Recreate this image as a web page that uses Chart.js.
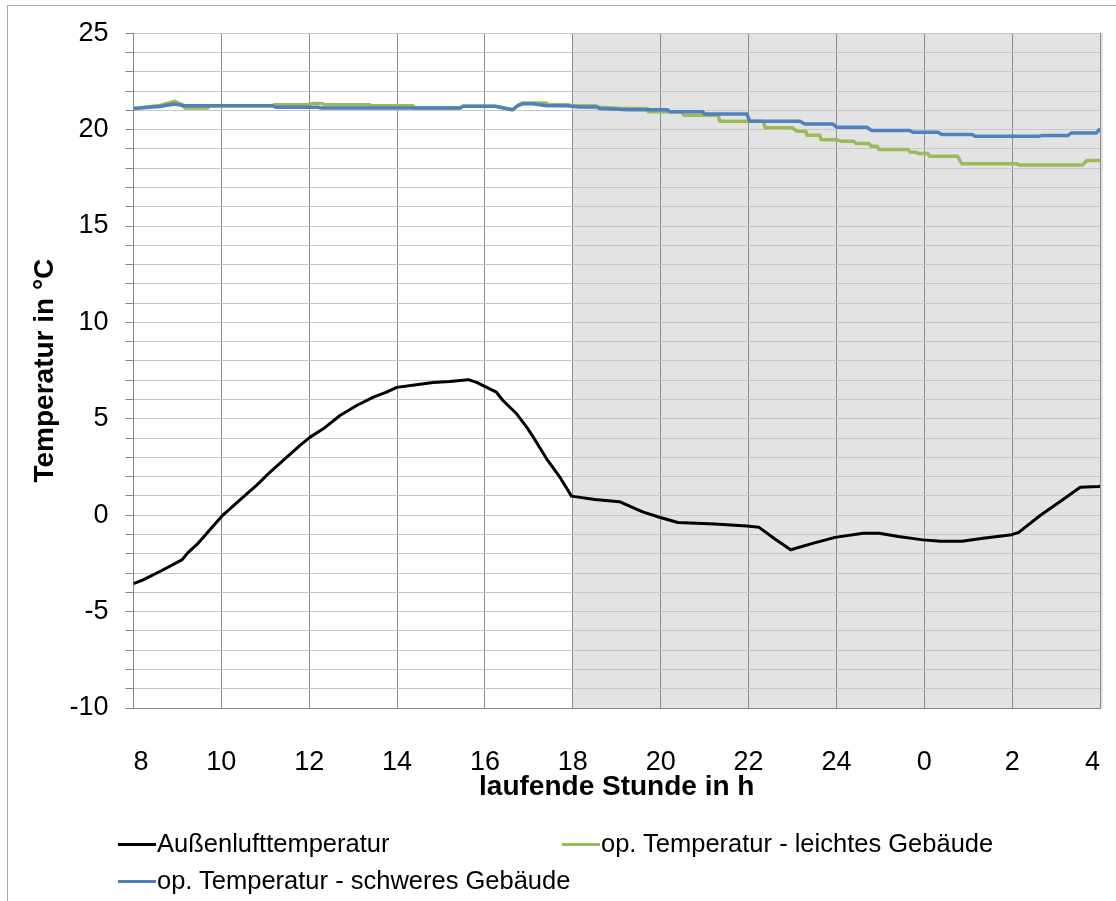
<!DOCTYPE html>
<html><head><meta charset="utf-8">
<script src="https://cdn.jsdelivr.net/npm/chart.js@4.4.1/dist/chart.umd.min.js"></script>
<style>
html,body{margin:0;padding:0;background:#fff;}
#wrap{position:relative;width:1116px;height:901px;overflow:hidden;font-family:"Liberation Sans",Arial,sans-serif;}
#frame{position:absolute;left:7px;top:5px;width:1200px;height:1000px;border-left:1px solid #a6a6a6;border-top:1px solid #a6a6a6;}
canvas{position:absolute;left:0;top:0;}
.lg{position:absolute;font-size:25.5px;color:#000;line-height:30px;white-space:nowrap;}
.lg .sw{display:inline-block;width:38px;height:3px;vertical-align:middle;margin-right:1px;position:relative;top:-1px;}
</style></head>
<body><div id="wrap"><div id="frame"></div><canvas id="c" width="1116" height="901"></canvas><div id="legend"></div></div>
<script>
// x tick labels (one every 2 hours on the running-hour axis)
const tickLabels = ['8','10','12','14','16','18','20','22','24','0','2','4'];
const nightStartLabel = '18';

const seriesNames = ['Außenlufttemperatur','op. Temperatur - leichtes Gebäude','op. Temperatur - schweres Gebäude'];
const seriesColors = ['#000000','#9bbb59','#4f81bd'];

// hours since the first tick (8 h)
const outsideHours = [0,0.22,0.60,1.10,1.24,1.47,1.67,2.01,2.50,2.80,3.11,3.49,3.79,4.02,4.32,4.70,5.08,5.46,5.76,5.99,6.44,6.82,7.20,7.62,7.81,8.26,8.41,8.72,8.95,9.10,9.40,9.70,9.97,10.50,11.06,11.59,11.99,12.39,13.23,13.96,14.24,14.60,14.96,15.48,15.97,16.61,16.97,17.41,17.97,18.38,18.86,19.34,19.99,20.15,20.63,21.11,21.55,21.96,22];
const outsideTemp = [-3.55,-3.35,-2.92,-2.32,-1.94,-1.46,-0.94,-0.05,0.95,1.55,2.24,3.01,3.62,4.05,4.48,5.17,5.69,6.12,6.38,6.63,6.77,6.88,6.94,7.03,6.89,6.38,5.95,5.26,4.57,4.05,2.94,1.99,0.99,0.82,0.70,0.17,-0.12,-0.38,-0.46,-0.56,-0.63,-1.23,-1.79,-1.45,-1.15,-0.94,-0.94,-1.11,-1.28,-1.35,-1.35,-1.2,-1.01,-0.89,-0.03,0.74,1.45,1.49,1.5];

const lightHours = [0,0.60,0.94,1.10,1.17,1.69,1.75,3.17,3.20,4.00,4.05,4.30,4.35,5.38,5.42,6.36,6.40,7.43,7.50,8.23,8.34,8.63,8.75,8.86,9.40,9.45,9.90,9.95,10.50,10.60,11.10,11.70,11.72,12.48,12.53,13.30,13.35,14.33,14.38,15.00,15.10,15.30,15.33,15.62,15.65,16.00,16.10,16.40,16.45,16.74,16.80,16.93,16.97,17.63,17.68,17.83,17.86,18.08,18.12,18.76,18.85,20.10,20.17,21.60,21.70,22];
const lightTemp = [21.09,21.25,21.47,21.3,21.12,21.12,21.24,21.24,21.29,21.29,21.36,21.36,21.29,21.29,21.24,21.24,21.12,21.12,21.21,21.21,21.16,21.03,21.25,21.38,21.38,21.29,21.29,21.24,21.24,21.16,21.09,21.09,20.92,20.92,20.74,20.74,20.43,20.43,20.09,20.09,19.92,19.92,19.71,19.71,19.48,19.48,19.4,19.4,19.28,19.28,19.14,19.14,18.97,18.97,18.83,18.83,18.76,18.76,18.62,18.62,18.23,18.23,18.16,18.16,18.4,18.4];

const heavyHours = [0,0.60,0.94,1.17,3.17,3.24,4.20,4.27,7.43,7.50,8.23,8.34,8.63,8.75,8.86,9.09,9.41,9.86,10.16,10.55,10.61,11.3,12.16,12.21,12.96,13.00,13.96,14.03,15.17,15.28,15.92,16.01,16.69,16.80,17.67,17.74,18.31,18.40,19.10,19.15,20.62,20.67,21.26,21.35,21.92,22];
const heavyTemp = [21.09,21.2,21.33,21.24,21.24,21.16,21.16,21.12,21.12,21.21,21.21,21.16,21.03,21.25,21.34,21.34,21.24,21.24,21.17,21.17,21.09,21.03,21.03,20.92,20.92,20.81,20.81,20.43,20.43,20.29,20.29,20.12,20.12,19.95,19.95,19.86,19.86,19.74,19.74,19.66,19.66,19.69,19.69,19.83,19.83,20.05];

const yMin = -10, yMax = 25, yLabelStep = 5;

const toPts = (xs, ys) => xs.map((x, i) => ({x: x, y: ys[i]}));
const FONT = '"Liberation Sans", Arial, sans-serif';

const nightShade = {
  id: 'nightShade',
  beforeDraw(chart) {
    const {ctx, chartArea: a, scales: {x}} = chart;
    const x0 = x.getPixelForValue(tickLabels.indexOf(nightStartLabel) * 2);
    ctx.save();
    ctx.fillStyle = '#e3e3e3';
    ctx.fillRect(x0, a.top, a.right + 3 - x0, a.bottom - a.top);
    ctx.restore();
  }
};

const chart = new Chart(document.getElementById('c'), {
  type: 'line',
  data: {
    datasets: [
      {label: seriesNames[0], data: toPts(outsideHours, outsideTemp), borderColor: seriesColors[0], borderWidth: 3, order: 0},
      {label: seriesNames[1], data: toPts(lightHours, lightTemp), borderColor: seriesColors[1], borderWidth: 3.5, order: 2},
      {label: seriesNames[2], data: toPts(heavyHours, heavyTemp), borderColor: seriesColors[2], borderWidth: 3.5, order: 1}
    ]
  },
  options: {
    responsive: false,
    animation: false,
    devicePixelRatio: 1,
    elements: {point: {radius: 0}, line: {tension: 0, borderJoinStyle: 'round'}},
    layout: {padding: {left: 24, top: 30, right: 16, bottom: 93}},
    plugins: {legend: {display: false}, tooltip: {enabled: false}},
    scales: {
      x: {
        type: 'linear', min: 0, max: (tickLabels.length - 1) * 2,
        afterFit(s) { s.height = 100; s.paddingLeft = 0; s.paddingRight = 0; },
        ticks: {
          stepSize: 2, autoSkip: false, maxRotation: 0, align: 'inner', padding: 38,
          color: '#000', font: {family: FONT, size: 27},
          callback: v => tickLabels[Math.round(v / 2)]
        },
        grid: {color: '#8c8c8c', lineWidth: 1, drawTicks: false},
        border: {color: '#868686', width: 1},
        title: {display: true, text: 'laufende Stunde in h', color: '#000', font: {family: FONT, size: 28, weight: 'bold'}, padding: {top: 4, bottom: 4}}
      },
      y: {
        min: yMin, max: yMax,
        afterFit(s) { s.width = 109.5; },
        ticks: {
          stepSize: 1, autoSkip: false, padding: 17, color: '#000', font: {family: FONT, size: 27},
          callback: v => (v % yLabelStep === 0 ? String(v) : '')
        },
        grid: {color: '#c6c6c6', lineWidth: 1, tickLength: 8, tickColor: '#868686'},
        border: {color: '#868686', width: 1},
        title: {display: true, text: 'Temperatur in °C', color: '#000', font: {family: FONT, size: 28, weight: 'bold'}, padding: {top: 4, bottom: 4}}
      }
    }
  },
  plugins: [nightShade]
});

// legend (two columns, Excel-style)
const legendPos = [{left: 118, top: 828}, {left: 562, top: 828}, {left: 118, top: 865}];
const lg = document.getElementById('legend');
seriesNames.forEach((name, i) => {
  const d = document.createElement('div');
  d.className = 'lg';
  d.style.left = legendPos[i].left + 'px';
  d.style.top = legendPos[i].top + 'px';
  const sw = document.createElement('span');
  sw.className = 'sw';
  sw.style.background = seriesColors[i];
  d.appendChild(sw);
  d.appendChild(document.createTextNode(name));
  lg.appendChild(d);
});
</script>
</body></html>
